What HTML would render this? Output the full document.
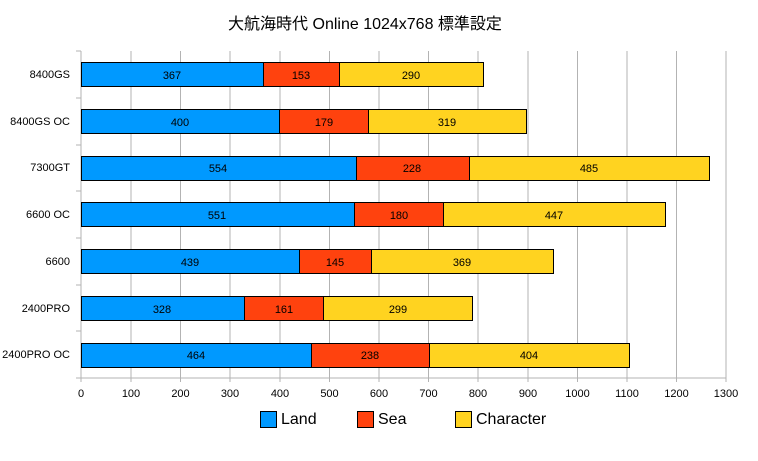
<!DOCTYPE html><html><head><meta charset="utf-8"><style>body{margin:0;background:#fff}</style></head><body>
<svg width="758" height="456" xmlns="http://www.w3.org/2000/svg" font-family="Liberation Sans, DejaVu Sans, sans-serif">
<rect width="758" height="456" fill="#fff"/>
<text x="365" y="29" font-size="16" text-anchor="middle" font-family="Liberation Sans, Noto Sans CJK JP, sans-serif">大航海時代 Online 1024x768  標準設定</text>
<g stroke="#b3b3b3" stroke-width="1">
<line x1="131" y1="51" x2="131" y2="382"/><line x1="180.5" y1="51" x2="180.5" y2="382"/><line x1="230" y1="51" x2="230" y2="382"/><line x1="280" y1="51" x2="280" y2="382"/><line x1="329.5" y1="51" x2="329.5" y2="382"/><line x1="379" y1="51" x2="379" y2="382"/><line x1="428.5" y1="51" x2="428.5" y2="382"/><line x1="478" y1="51" x2="478" y2="382"/><line x1="528" y1="51" x2="528" y2="382"/><line x1="577.5" y1="51" x2="577.5" y2="382"/><line x1="627" y1="51" x2="627" y2="382"/><line x1="676.5" y1="51" x2="676.5" y2="382"/><line x1="726" y1="51" x2="726" y2="382"/>
<line x1="81" y1="51" x2="81" y2="382"/><line x1="81" y1="378" x2="726" y2="378"/>
<line x1="76" y1="51" x2="81" y2="51"/><line x1="76" y1="98" x2="81" y2="98"/><line x1="76" y1="145" x2="81" y2="145"/><line x1="76" y1="191" x2="81" y2="191"/><line x1="76" y1="238" x2="81" y2="238"/><line x1="76" y1="285" x2="81" y2="285"/><line x1="76" y1="331" x2="81" y2="331"/><line x1="76" y1="378" x2="81" y2="378"/>
</g>
<g font-size="11" text-anchor="middle">
<text x="81" y="397">0</text><text x="131" y="397">100</text><text x="180.5" y="397">200</text><text x="230" y="397">300</text><text x="280" y="397">400</text><text x="329.5" y="397">500</text><text x="379" y="397">600</text><text x="428.5" y="397">700</text><text x="478" y="397">800</text><text x="528" y="397">900</text><text x="577.5" y="397">1000</text><text x="627" y="397">1100</text><text x="676.5" y="397">1200</text><text x="726" y="397">1300</text>
</g>
<g stroke="#000" stroke-width="1">
<rect x="81.5" y="62.5" width="182" height="24" fill="#0099ff"/><rect x="263.5" y="62.5" width="76" height="24" fill="#ff420e"/><rect x="339.5" y="62.5" width="144" height="24" fill="#ffd320"/>
<rect x="81.5" y="109.5" width="198" height="24" fill="#0099ff"/><rect x="279.5" y="109.5" width="89" height="24" fill="#ff420e"/><rect x="368.5" y="109.5" width="158" height="24" fill="#ffd320"/>
<rect x="81.5" y="156.5" width="275" height="24" fill="#0099ff"/><rect x="356.5" y="156.5" width="113" height="24" fill="#ff420e"/><rect x="469.5" y="156.5" width="240" height="24" fill="#ffd320"/>
<rect x="81.5" y="202.5" width="273" height="24" fill="#0099ff"/><rect x="354.5" y="202.5" width="89" height="24" fill="#ff420e"/><rect x="443.5" y="202.5" width="222" height="24" fill="#ffd320"/>
<rect x="81.5" y="249.5" width="218" height="24" fill="#0099ff"/><rect x="299.5" y="249.5" width="72" height="24" fill="#ff420e"/><rect x="371.5" y="249.5" width="182" height="24" fill="#ffd320"/>
<rect x="81.5" y="296.5" width="163" height="24" fill="#0099ff"/><rect x="244.5" y="296.5" width="79" height="24" fill="#ff420e"/><rect x="323.5" y="296.5" width="149" height="24" fill="#ffd320"/>
<rect x="81.5" y="343.5" width="230" height="24" fill="#0099ff"/><rect x="311.5" y="343.5" width="118" height="24" fill="#ff420e"/><rect x="429.5" y="343.5" width="200" height="24" fill="#ffd320"/>
</g>
<g font-size="11" text-anchor="middle">
<text x="172" y="79">367</text><text x="301" y="79">153</text><text x="411" y="79">290</text>
<text x="180" y="126">400</text><text x="324" y="126">179</text><text x="447" y="126">319</text>
<text x="218" y="172">554</text><text x="412" y="172">228</text><text x="589" y="172">485</text>
<text x="217" y="219">551</text><text x="399" y="219">180</text><text x="554" y="219">447</text>
<text x="190" y="266">439</text><text x="335" y="266">145</text><text x="462" y="266">369</text>
<text x="162" y="313">328</text><text x="284" y="313">161</text><text x="398" y="313">299</text>
<text x="196" y="359">464</text><text x="370" y="359">238</text><text x="529" y="359">404</text>
</g>
<g font-size="11" text-anchor="end">
<text x="70" y="78">8400GS</text><text x="70" y="125">8400GS OC</text><text x="70" y="171">7300GT</text><text x="70" y="218">6600 OC</text><text x="70" y="265">6600</text><text x="70" y="312">2400PRO</text><text x="70" y="358">2400PRO OC</text>
</g>
<g stroke="#000">
<rect x="260.5" y="411.5" width="16" height="16" fill="#0099ff"/>
<rect x="357.5" y="411.5" width="16" height="16" fill="#ff420e"/>
<rect x="455.5" y="411.5" width="16" height="16" fill="#ffd320"/>
</g>
<g font-size="16"><text x="281" y="424">Land</text><text x="378" y="424">Sea</text><text x="476" y="424">Character</text></g>
</svg></body></html>
